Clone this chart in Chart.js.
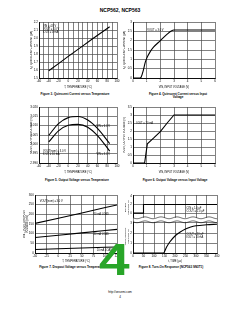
<!DOCTYPE html>
<html><head><meta charset="utf-8">
<script src="https://cdn.jsdelivr.net/npm/chart.js@4.4.1/dist/chart.umd.min.js"></script>
<style>
html,body{margin:0;padding:0;background:#fff;width:240px;height:310px;overflow:hidden;position:relative;font-family:"Liberation Sans",Arial,sans-serif;}
canvas{position:absolute;}
.t{position:absolute;white-space:nowrap;color:#000;transform:translateX(-50%);line-height:1.15;text-align:center;}
.cap{font-weight:bold;font-size:3px;}
#wm{position:absolute;left:99px;top:238px;font:bold 44px/44px "Liberation Sans",Arial,sans-serif;color:rgb(40,165,40);transform:scaleX(1.25);transform-origin:0 0;z-index:10;}
</style></head><body>
<div class="t" style="left:120px;top:8px;font-weight:bold;font-size:5px;">NCP562, NCP563</div>
<div class="t cap" style="left:75px;top:92.5px;">Figure 3. Quiescent Current versus Temperature</div>
<div class="t cap" style="left:178px;top:92.5px;">Figure 4. Quiescent Current versus Input<br>Voltage</div>
<div class="t cap" style="left:77px;top:178.5px;">Figure 5. Output Voltage versus Temperature</div>
<div class="t cap" style="left:175px;top:178.5px;">Figure 6. Output Voltage versus Input Voltage</div>
<div class="t cap" style="left:72px;top:266px;">Figure 7. Dropout Voltage versus Temperature</div>
<div class="t cap" style="left:171px;top:266px;">Figure 8. Turn-On Response (NCP563 SN3T1)</div>
<div class="t" style="left:120px;top:291px;font-size:3px;">http://onsemi.com</div>
<div class="t" style="left:120px;top:296px;font-size:3px;">4</div>
<div id="wm">4</div>
<script>
// ---------- DATA ----------
// Figure 3: Quiescent current vs temperature
const fig3Temp = [-40, -20, 0, 25, 50, 85];
const fig3Iq = [1.59, 1.68, 1.77, 1.88, 1.99, 2.14];
// Figure 4: Quiescent current vs input voltage
const fig4Vin = [0, 0.5, 0.6, 0.75, 0.9, 1.0, 1.25, 1.5, 2.0, 2.5, 2.8, 3.0, 6.0];
const fig4Iq = [0, 0, 0.05, 0.4, 0.85, 1.05, 1.4, 1.65, 2.0, 2.35, 2.52, 2.57, 2.57];
// Figure 5: Output voltage vs temperature
const fig5Temp = [-40, -20, 0, 20, 40, 60, 85];
const fig5Vin6 = [3.0048, 3.0111, 3.0143, 3.0149, 3.0130, 3.0085, 3.0004];
const fig5Vin4 = [3.0013, 3.0072, 3.0102, 3.0107, 3.0092, 3.0047, 2.9964];
// Figure 6: Output voltage vs input voltage
const fig6Vin = [0, 0.85, 0.95, 1.05, 1.5, 2.0, 2.5, 3.0, 6.0];
const fig6Vout = [0, 0, 0.6, 1.2, 1.55, 1.96, 2.5, 3.0, 3.0];
// Figure 7: Dropout voltage vs temperature
const fig7Temp = [-50, 0, 50, 100, 125];
const fig7Load80 = [153, 180, 207, 235, 248];
const fig7Load40 = [80, 92, 104, 116, 122];
const fig7Load10 = [18, 22, 26, 30, 31];
// Figure 8: Turn-on response
const fig8EnTime = [0, 50, 50, 400];
const fig8EnVolt = [0, 0, 2, 2];
const fig8OutTime = [0, 145, 160, 175, 200, 225, 250, 275, 300, 350, 400];
const fig8OutVolt = [0, 0, 0.6, 1.1, 1.7, 2.1, 2.4, 2.6, 2.72, 2.82, 2.88];
const fig8EnTicks = [0, 2, 4];
const fig8OutTicks = [0, 1, 2, 3];

// ---------- HELPERS ----------
Chart.defaults.font.family = '"Liberation Sans", Arial, sans-serif';
Chart.defaults.color = '#000';
Chart.defaults.animation = false;
const GRID = '#4a4a4a';

function pts(xs, ys) { return xs.map((x, i) => ({x: x, y: ys[i]})); }

const textPlugin = {
  id: 'texts',
  afterDatasetsDraw(chart, args, opts) {
    const ctx = chart.ctx;
    (opts.items || []).forEach(it => {
      const x = chart.scales[it.xAxis || 'x'].getPixelForValue(it.x);
      const y = chart.scales[it.yAxis || 'y'].getPixelForValue(it.y);
      ctx.save();
      ctx.font = (it.size || 2.6) + 'px "Liberation Sans", Arial, sans-serif';
      ctx.fillStyle = '#000';
      ctx.textAlign = it.align || 'left';
      ctx.textBaseline = 'middle';
      it.lines.forEach((ln, i) => ctx.fillText(ln, x, y + i * 3.2));
      ctx.restore();
    });
  }
};

const breakPlugin = {
  id: 'brk',
  afterDatasetsDraw(chart, args, opts) {
    if (!opts.on) return;
    const ctx = chart.ctx, a = chart.chartArea;
    const yb = chart.scales.yOut.top;
    ctx.save();
    ctx.fillStyle = '#fff';
    ctx.fillRect(a.left + 0.5, yb - 2.2, a.right - a.left - 1, 4);
    ctx.strokeStyle = '#000';
    ctx.lineWidth = 0.6;
    [yb - 2.2, yb + 1.8].forEach(y0 => {
      ctx.beginPath();
      for (let x = a.left; x <= a.right; x += 0.5) {
        const y = y0 + Math.sin((x - a.left) / 16 * 2 * Math.PI) * 0.9;
        if (x === a.left) ctx.moveTo(x, y); else ctx.lineTo(x, y);
      }
      ctx.stroke();
    });
    ctx.restore();
  }
};

function ax(o) {
  const a = {
    type: 'linear',
    min: o.min, max: o.max,
    grid: {color: GRID, lineWidth: 0.7, drawTicks: false},
    border: {color: '#000', width: 0.9},
    ticks: {font: {size: 3}, padding: 1.2, color: '#000', autoSkip: false, maxRotation: 0,
            stepSize: o.step, callback: o.cb || (v => v)},
    title: {display: true, text: o.title, font: {size: o.tsize || 2.6}, padding: 0, color: '#000'}
  };
  if (o.stack) { a.stack = o.stack; a.stackWeight = o.weight; a.position = 'left'; }
  if (o.fixed) a.afterBuildTicks = s => { s.ticks = o.fixed.map(v => ({value: v})); };
  return a;
}

function makeChart(box, plot, datasets, xo, yos, texts, brk) {
  const c = document.createElement('canvas');
  c.width = box.w; c.height = box.h;
  c.style.left = box.l + 'px'; c.style.top = box.t + 'px';
  c.style.width = box.w + 'px'; c.style.height = box.h + 'px';
  document.body.insertBefore(c, document.getElementById('wm'));
  const scales = {};
  const x = ax(xo);
  x.position = 'bottom';
  x.afterFit = s => { s.height = box.t + box.h - plot.b; };
  scales.x = x;
  Object.keys(yos).forEach(k => {
    const y = ax(yos[k]);
    if (!y.position) y.position = 'left';
    y.afterFit = s => { s.width = plot.l - box.l; };
    scales[k] = y;
  });
  new Chart(c, {
    type: 'scatter',
    data: {datasets: datasets.map(d => Object.assign({
      showLine: true, borderColor: '#000', borderWidth: 1.1, pointRadius: 0,
      cubicInterpolationMode: 'monotone', fill: false
    }, d))},
    options: {
      responsive: false, devicePixelRatio: 1, animation: false,
      layout: {padding: {top: plot.t - box.t, right: box.l + box.w - plot.r, left: 0, bottom: 0}},
      plugins: {legend: {display: false}, tooltip: {enabled: false},
                texts: {items: texts || []}, brk: {on: !!brk}},
      scales: scales
    },
    plugins: [textPlugin, breakPlugin]
  });
}

const f1 = v => v.toFixed(1);
const every = n => (v => (Math.abs(v % n) < 1e-9 ? v : ''));
const half = v => (Math.round(v * 10) / 10).toString();

// Figure 3
makeChart({l: 30, t: 18, w: 94, h: 71}, {l: 39, t: 22, r: 117, b: 78},
  [{data: pts(fig3Temp, fig3Iq), cubicInterpolationMode: 'default', tension: 0}],
  {min: -60, max: 100, step: 10, cb: every(20), title: 'T, TEMPERATURE (°C)'},
  {y: {min: 1.5, max: 2.2, step: 0.1, cb: f1, title: 'IQ, QUIESCENT CURRENT (µA)'}},
  [{x: -52, y: 2.15, lines: ['VIN = 4.8 V', 'VOUT = 3.0 V', 'IOUT = 0 mA']}]);

// Figure 4
makeChart({l: 123, t: 18, w: 99, h: 71}, {l: 133, t: 22, r: 215, b: 78},
  [{data: pts(fig4Vin, fig4Iq)}],
  {min: 0, max: 6, step: 1, title: 'VIN, INPUT VOLTAGE (V)'},
  {y: {min: 0, max: 3, step: 0.5, cb: half, title: 'IQ, QUIESCENT CURRENT (µA)'}},
  [{x: 1.05, y: 2.55, lines: ['VOUT = 3.0 V']}]);

// Figure 5
makeChart({l: 30, t: 103, w: 94, h: 71}, {l: 39, t: 107, r: 117, b: 163},
  [{data: pts(fig5Temp, fig5Vin6)}, {data: pts(fig5Temp, fig5Vin4)}],
  {min: -60, max: 100, step: 20, title: 'T, TEMPERATURE (°C)'},
  {y: {min: 2.99, max: 3.02, step: 0.005, cb: v => v.toFixed(3), title: 'VOUT, OUTPUT VOLTAGE (V)'}},
  [{x: 58, y: 3.0095, lines: ['VIN = 6.0 V']},
   {x: 58, y: 2.9946, lines: ['VIN = 4.0 V']},
   {x: -52, y: 2.9965, lines: ['VOUT(nom) = 3.0 V', 'IOUT = 10 mA']}]);

// Figure 6
makeChart({l: 123, t: 103, w: 99, h: 71}, {l: 133, t: 107, r: 215, b: 163},
  [{data: pts(fig6Vin, fig6Vout), cubicInterpolationMode: 'default', tension: 0}],
  {min: 0, max: 6, step: 1, title: 'VIN, INPUT VOLTAGE (V)'},
  {y: {min: 0, max: 3.5, step: 0.5, cb: half, title: 'VOUT, OUTPUT VOLTAGE (V)'}},
  [{x: 0.25, y: 2.5, lines: ['IOUT = 10 mA']}]);

// Figure 7
makeChart({l: 23, t: 191, w: 101, h: 72}, {l: 35, t: 195, r: 117, b: 253},
  [{data: pts(fig7Temp, fig7Load80), cubicInterpolationMode: 'default', tension: 0},
   {data: pts(fig7Temp, fig7Load40), cubicInterpolationMode: 'default', tension: 0},
   {data: pts(fig7Temp, fig7Load10), cubicInterpolationMode: 'default', tension: 0}],
  {min: -50, max: 125, step: 25, title: 'T, TEMPERATURE (°C)'},
  {y: {min: 0, max: 300, step: 50, title: ['VIN – VOUT, DROPOUT', 'VOLTAGE (mV)']}},
  [{x: -40, y: 265, lines: ['VOUT(nom) = 3.0 V']},
   {x: 75, y: 198, lines: ['80 mA LOAD']},
   {x: 75, y: 98, lines: ['40 mA LOAD']},
   {x: 82, y: 12, lines: ['10 mA LOAD']}]);

// Figure 8 (output axis listed first: stacked axes are placed bottom-up)
makeChart({l: 124, t: 191, w: 100, h: 72}, {l: 133, t: 195, r: 217, b: 253},
  [{data: pts(fig8EnTime, fig8EnVolt), yAxisID: 'yEn', cubicInterpolationMode: 'default', tension: 0},
   {data: pts(fig8OutTime, fig8OutVolt), yAxisID: 'yOut'}],
  {min: 0, max: 400, step: 50, title: 't, TIME (µs)'},
  {yOut: {min: 0, max: 3.3, fixed: fig8OutTicks, stack: 's', weight: 33, tsize: 2.4, title: ['VOUT, OUTPUT', 'VOLTAGE (V)']},
   yEn: {min: -1.6, max: 4.2, fixed: fig8EnTicks, stack: 's', weight: 25, tsize: 2.4, title: ['ENABLE', 'VOLTAGE (V)']}},
  [{x: 255, y: 1.1, yAxis: 'yEn', lines: ['CIN = 1.0 µF', 'COUT = 1.0 µF']},
   {x: 255, y: 1.9, yAxis: 'yOut', lines: ['COUT = 10 µF', 'IOUT = 10 mA']}],
  true);
</script>
</body></html>
